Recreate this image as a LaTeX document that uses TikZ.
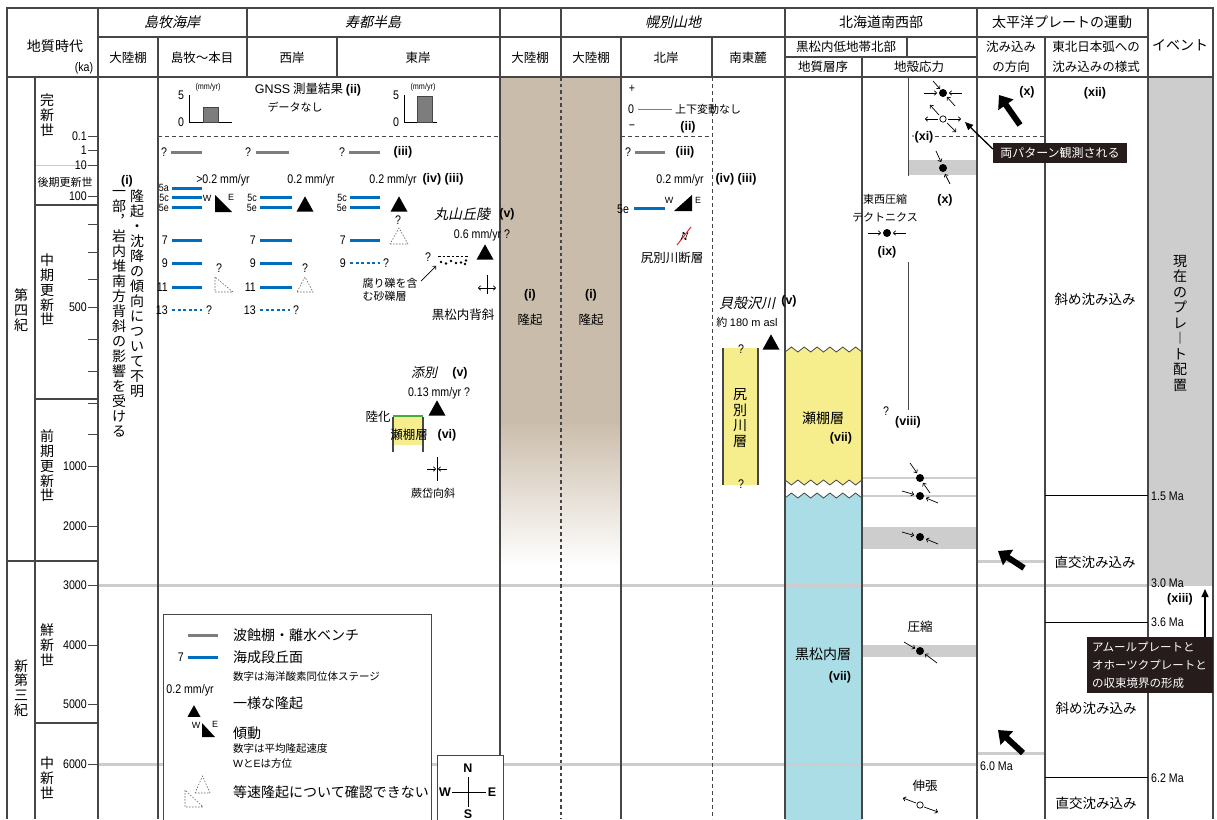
\documentclass[tikz,border=0pt]{standalone}
\usepackage{fontspec}
\setmainfont{Noto Sans CJK JP}
\newfontfamily\ar{Liberation Sans}
\newfontfamily\arn[FakeStretch=0.85]{Liberation Sans}
\newfontfamily\jit[FakeSlant=0.22]{Noto Sans CJK JP}
\usetikzlibrary{arrows.meta}
\definecolor{beige}{RGB}{202,188,170}
\definecolor{tblue}{RGB}{0,110,190}
\definecolor{lgray}{RGB}{205,205,205}
\definecolor{mgray}{RGB}{125,125,125}
\definecolor{yel}{RGB}{246,238,140}
\definecolor{lblue}{RGB}{170,221,229}
\definecolor{dark}{RGB}{38,28,28}
\definecolor{grn}{RGB}{70,170,60}
\definecolor{frm}{RGB}{70,70,70}
\definecolor{fred}{RGB}{225,40,40}
\tikzset{
  tx/.style={inner sep=0pt, font=\fontsize{12.5}{15}\selectfont},
  txs/.style={inner sep=0pt, font=\fontsize{11}{13}\selectfont},
  txl/.style={inner sep=0pt, font=\fontsize{14}{16}\selectfont},
  lt/.style={inner sep=0pt, font=\arn\fontsize{12.5}{13}\selectfont},
  lts/.style={inner sep=0pt, font=\arn\fontsize{10.5}{9}\selectfont},
  lsm/.style={inner sep=0pt, font=\arn\fontsize{8.5}{9}\selectfont},
  rn/.style={inner sep=0pt, font=\ar\bfseries\fontsize{12.5}{13}\selectfont},
  hd/.style={inner sep=0pt, font=\fontsize{14}{16}\selectfont, align=center},
  hs/.style={inner sep=0pt, font=\fontsize{12.5}{19.5}\selectfont, align=center},
  hi/.style={inner sep=0pt, font=\jit\fontsize{14}{16}\selectfont},
  vt/.style={inner sep=0pt, font=\fontsize{14}{14.8}\selectfont, align=center},
  rulel/.style={frm, line width=1.1pt},
  dsh/.style={frm, line width=1pt, dash pattern=on 4pt off 3pt},
  ter/.style={tblue, line width=3pt},
  terd/.style={tblue, line width=2.4pt, dash pattern=on 3pt off 2.5pt},
  bench/.style={mgray, line width=3pt},
  gline/.style={lgray, line width=3pt},
  sarr/.style={black, line width=0.7pt, -{To[length=3pt,width=5pt]}},
  bigarr/.style={line width=6pt, -{Triangle[length=12pt,width=18pt]}},
  dtri/.style={black!60, line width=0.6pt, dash pattern=on 1.5pt off 1.5pt},
  call/.style={fill=dark, text=white, inner sep=4pt},
  blk/.style={black, line width=0.8pt},
}
\newcommand\uptri[3]{\fill (#1-#3,#2+#3*0.9)--(#1+#3,#2+#3*0.9)--(#1,#2-#3*0.9)--cycle;}
\begin{document}
\begin{tikzpicture}[x=1pt,y=-1pt]
\useasboundingbox (0,0) rectangle (1217,819);
\fill[white] (0,0) rectangle (1217,819);
% ---------- fills ----------
\fill[beige] (500,77) rectangle (621,420);
\shade[top color=beige,bottom color=white] (500,420) rectangle (621,566);
\fill[lgray] (1148,77) rectangle (1213,586);
\fill[lgray] (908,160) rectangle (977,175);
\fill[lgray] (862,527) rectangle (977,549);
\fill[lgray] (862,645) rectangle (977,657);
% stratigraphy columns
\fill[yel] (785,352) \foreach \k in {1,...,12}{ -- ({785+77*\k/12},{ifthenelse(isodd(\k),347,352)}) } -- (862,480) \foreach \k in {11,...,0}{ -- ({785+77*\k/12},{ifthenelse(isodd(\k),485,480)}) } -- cycle;
\fill[lblue] (785,498) \foreach \k in {1,...,12}{ -- ({785+77*\k/12},{ifthenelse(isodd(\k),493,498)}) } -- (862,822) -- (785,822) -- cycle;
\draw[frm,line width=0.8pt] (785,352) \foreach \k in {1,...,12}{ -- ({785+77*\k/12},{ifthenelse(isodd(\k),347,352)}) };
\draw[frm,line width=0.8pt] (785,480) \foreach \k in {1,...,12}{ -- ({785+77*\k/12},{ifthenelse(isodd(\k),485,480)}) };
\draw[frm,line width=0.8pt] (785,498) \foreach \k in {1,...,12}{ -- ({785+77*\k/12},{ifthenelse(isodd(\k),493,498)}) };
\fill[yel] (723,348) rectangle (758,485);
\draw[frm,line width=1.3pt] (723,348)--(723,485) (758,348)--(758,485);
% ---------- grey time lines ----------
\draw[gline] (98,585)--(1148,585);
\draw[gline] (98,764)--(977,764);
\draw[lgray,line width=2pt] (862,478)--(977,478) (862,496)--(977,496);
\draw[gline] (977,561)--(1045,561);
\draw[gline] (977,753)--(1045,753);
\draw[lgray,line width=1pt] (35,165)--(88,165);
% ---------- frame ----------
\draw[rulel] (7,819)--(7,8)--(1213,8)--(1213,819);
\draw[rulel] (98,37)--(1148,37);
\draw[rulel] (7,77)--(1213,77);
\draw[rulel] (785,57)--(977,57);
\draw[rulel] (35,77)--(35,819);
\draw[rulel] (98,8)--(98,819);
\draw[rulel] (158,37)--(158,819);
\draw[rulel] (247,8)--(247,77);
\draw[rulel] (337,37)--(337,77);
\draw[rulel] (500,8)--(500,819);
\draw[rulel] (561,8)--(561,77);
\draw[dsh,line width=1.4pt,dash pattern=on 3.5pt off 3pt] (561,77)--(561,819);
\draw[rulel] (621,37)--(621,819);
\draw[rulel] (712,37)--(712,77);
\draw[dsh] (712,77)--(712,819);
\draw[rulel] (785,8)--(785,819);
\draw[rulel] (907,37)--(907,57);
\draw[rulel] (862,57)--(862,819);
\draw[rulel] (977,8)--(977,819);
\draw[rulel] (1045,37)--(1045,819);
\draw[rulel] (1148,8)--(1148,819);
\draw[frm,line width=0.9pt] (908,77)--(908,176) (908,262)--(908,410);
% era / epoch lines
\draw[rulel] (35,205)--(98,205) (35,399)--(98,399) (7,561)--(98,561) (35,723)--(98,723);
\draw[blk] (1045,495)--(1148,495) (1045,622)--(1148,622) (1045,777)--(1148,777);
% dashed 0.1 ka line
\draw[dsh] (158,136)--(500,136) (621,136)--(712,136);
\draw[dsh] (935,136)--(1045,136);
\fill[frm] (913,136) circle (0.8pt);
% ---------- header text ----------
\node[hd] (h1) at (55,46) {地質時代};
\node[lt] (h2) at (84,68) {(ka)};
\node[hi] (h3) at (172,22) {島牧海岸};
\node[hi] (h4) at (373,22) {寿都半島};
\node[hi] (h5) at (673,22) {幌別山地};
\node[hd] (h6) at (881,22) {北海道南西部};
\node[hd] (h7) at (1062,22) {太平洋プレートの運動};
\node[hs] (h8) at (128,58) {大陸棚};
\node[hs] (h9) at (202,58) {島牧〜本目};
\node[hs] (h10) at (292,58) {西岸};
\node[hs] (h11) at (418,58) {東岸};
\node[hs] (h12) at (530,58) {大陸棚};
\node[hs] (h13) at (591,58) {大陸棚};
\node[hs] (h14) at (666,58) {北岸};
\node[hs] (h15) at (748,58) {南東麓};
\node[hs] (h16) at (846,47) {黒松内低地帯北部};
\node[hs] (h17) at (823,67) {地質層序};
\node[hs] (h18) at (919,67) {地殻応力};
\node[hs] (h19) at (1011,57) {沈み込み\\の方向};
\node[hs] (h20) at (1096,57) {東北日本弧への\\沈み込みの様式};
\node[hd] (h21) at (1180,45) {イベント};
% ---------- time axis ----------
\foreach \yy/\lab in {136/0.1,150/1,165/10,196/100,307/500,466/1000,526/2000,585/3000,645/4000,704/5000,764/6000}{
  \node[lt,anchor=east] at (87,\yy) {\lab};
  \draw[frm,line width=0.9pt] (88,\yy)--(98,\yy);}
\foreach \yy in {224,252,279,339,371,403,434}{\draw[frm,line width=0.9pt] (88,\yy)--(98,\yy);}
\node[vt] (e1) at (47,115) {完\\新\\世};
\node[txs] (e2) at (65,182) {後期更新世};
\node[vt] (e3) at (47,290) {中\\期\\更\\新\\世};
\node[vt] (e4) at (47,466) {前\\期\\更\\新\\世};
\node[vt] (e5) at (47,645) {鮮\\新\\世};
\node[vt] (e6) at (47,778) {中\\新\\世};
\node[vt] (e7) at (21,310) {第\\四\\紀};
\node[vt] (e8) at (21,688) {新\\第\\三\\紀};
% ---------- 島牧 大陸棚 ----------
\node[rn] (i1) at (127,181) {(i)};
\node[vt,anchor=north,font=\fontsize{14}{15}\selectfont] (i2) at (137,190) {隆\\起\\・\\沈\\降\\の\\傾\\向\\に\\つ\\い\\て\\不\\明};
\node[vt,anchor=north,font=\fontsize{14}{15}\selectfont] (i3) at (119,190) {一\\部\\︐\\岩\\内\\堆\\南\\方\\背\\斜\\の\\影\\響\\を\\受\\け\\る};
% ---------- GNSS ----------
\draw[blk] (189,95)--(189,122)--(232,122);
\fill[mgray] (203,107) rectangle (218,122); \draw[frm,line width=0.5pt] (203,107) rectangle (218,122);
\node[lt] at (181,95) {5}; \node[lt] at (181,122) {0}; \node[lsm] at (208,87) {(mm/yr)};
\draw[blk] (404,95)--(404,122)--(437,122);
\fill[mgray] (417,96) rectangle (432,122); \draw[frm,line width=0.5pt] (417,96) rectangle (432,122);
\node[lt] at (396,95) {5}; \node[lt] at (396,122) {0}; \node[lsm] at (423,87) {(mm/yr)};
\node[tx] (g1) at (308,90) {{\ar GNSS} 測量結果 {\ar\bfseries (ii)}};
\node[txs] (g2) at (295,107) {データなし};
% ---------- benches ----------
\node[lt] at (164,152) {?}; \draw[bench] (171,152)--(202,152);
\node[lt] at (248,152) {?}; \draw[bench] (256,152)--(289,152);
\node[lt] at (342,152) {?}; \draw[bench] (349,152)--(380,152);
\node[rn] at (403,152) {(iii)};
\node[lt] at (223,180) {>0.2 mm/yr};
\node[lt] at (311,180) {0.2 mm/yr};
\node[lt] at (393,180) {0.2 mm/yr};
\node[rn] at (443,179) {(iv) (iii)};
% column 1
\node[lts,anchor=east] at (169,187.5) {5a};
\node[lts,anchor=east] at (169,197.5) {5c};
\node[lts,anchor=east] at (169,207.5) {5e};
\draw[ter] (172,188)--(202,188) (172,197)--(202,197) (172,207)--(202,207);
\node[lsm,font=\ar\fontsize{9}{9}\selectfont] at (207,198) {W};
\fill (215,195)--(215,212)--(232,212)--cycle;
\node[lsm,font=\ar\fontsize{9}{9}\selectfont] at (231,197) {E};
\node[lt,anchor=east] at (168,240) {7}; \draw[ter] (172,240)--(202,240);
\node[lt,anchor=east] at (168,263) {9}; \draw[ter] (172,263)--(202,263);
\node[lt,anchor=east] at (168,287) {11}; \draw[ter] (172,287)--(202,287);
\node[lt,anchor=east] at (168,310) {13}; \draw[terd] (172,310)--(202,310); \node[lt] at (209,310) {?};
\draw[dtri] (215,277)--(215,292)--(233,292)--cycle; \node[lt] at (219,268) {?};
% column 2
\node[lts,anchor=east] at (257,197.5) {5c};
\node[lts,anchor=east] at (257,207.5) {5e};
\draw[ter] (260,197)--(292,197) (260,207)--(292,207);
\uptri{305}{204}{8.5}
\node[lt,anchor=east] at (256,240) {7}; \draw[ter] (260,240)--(292,240);
\node[lt,anchor=east] at (256,263) {9}; \draw[ter] (260,263)--(292,263);
\node[lt,anchor=east] at (256,287) {11}; \draw[ter] (260,287)--(292,287);
\node[lt,anchor=east] at (256,310) {13}; \draw[terd] (260,310)--(290,310); \node[lt] at (296,310) {?};
\draw[dtri] (297,292)--(313,292)--(305,277)--cycle; \node[lt] at (305,268) {?};
% column 3
\node[lts,anchor=east] at (347,197.5) {5c};
\node[lts,anchor=east] at (347,207.5) {5e};
\draw[ter] (350,197)--(380,197) (350,207)--(380,207);
\uptri{399}{204}{8.5}
\node[lt] at (398,220) {?};
\draw[dtri] (390,244)--(408,244)--(399,228)--cycle;
\node[lt,anchor=east] at (346,240) {7}; \draw[ter] (350,240)--(380,240);
\node[lt,anchor=east] at (346,263) {9}; \draw[terd] (350,263)--(380,263); \node[lt] at (386,263) {?};
% 丸山丘陵
\node[txl,font=\jit\fontsize{14}{16}\selectfont] (m1) at (462,214) {丸山丘陵};
\node[rn] (m2) at (507,214) {(v)};
\node[lt] (m3) at (482,235) {0.6 mm/yr ?};
\uptri{485}{252}{8.5}
\node[lt] at (428,257) {?};
\draw[black,line width=0.7pt,dash pattern=on 2.5pt off 2pt] (438,256)--(468,256);
\foreach \px/\py in {441/262,446/263.5,451/261,456/263,461/262.5,466/260.5,465/264}{\fill (\px,\py) circle (1.3pt);}
\node[txs,align=left] (m4) at (390,290) {腐り礫を含\\む砂礫層};
\draw[sarr] (421,281)--(436,266);
\draw[blk] (487,275)--(487,294);
\draw[sarr] (487,288)--(478,288); \draw[sarr] (487,288)--(496,288);
\node[tx] (m5) at (463,315) {黒松内背斜};
% 添別
\node[txl,font=\jit\fontsize{13}{15}\selectfont] (s1) at (424,373) {添別};
\node[rn] (s2) at (460,373) {(v)};
\node[lt] (s3) at (439,393) {0.13 mm/yr ?};
\uptri{437}{408}{8.5}
\fill[yel] (393,417) rectangle (423,445);
\draw[frm,line width=1.3pt] (393,417)--(393,452) (423,417)--(423,452);
\draw[grn,line width=1.8pt] (393,416)--(423,416);
\node[tx] (s4) at (378,417) {陸化};
\node[tx] (s5) at (409,435) {瀬棚層};
\node[rn] (s6) at (447,435) {(vi)};
\draw[blk] (437,457)--(437,481);
\draw[sarr] (427,469)--(436,469); \draw[sarr] (447,469)--(438,469);
\node[txs] (s7) at (433,493) {蕨岱向斜};
% 大陸棚 uplift
\node[rn] at (530,295) {(i)}; \node[tx] at (530,320) {隆起};
\node[rn] at (591,295) {(i)}; \node[tx] at (591,320) {隆起};
% ---------- 北岸 ----------
\node[lt] at (632,89) {+};
\node[lt] at (631,109) {0};
\draw[mgray,line width=0.7pt] (638,109)--(672,109);
\node[txs] at (708,109) {上下変動なし};
\node[lt] at (632,127) {−};
\node[rn] at (688,127) {(ii)};
\node[lt] at (628,152) {?}; \draw[bench] (635,152)--(665,152); \node[rn] at (685,152) {(iii)};
\node[lt] at (680,180) {0.2 mm/yr};
\node[rn] at (736,179) {(iv) (iii)};
\node[lt] at (623,209) {5e}; \draw[ter] (634,208)--(665,208);
\node[lsm,font=\ar\fontsize{9}{9}\selectfont] at (669,200) {W};
\fill (692,195)--(692,211)--(674,211)--cycle;
\node[lsm,font=\ar\fontsize{9}{9}\selectfont] at (698,200) {E};
\draw[fred,line width=1pt] (677,245)--(691,227);
\draw[black,line width=0.6pt,-{To[length=2pt,width=3pt]}] (681,240)--(684,232);
\draw[black,line width=0.6pt,-{To[length=2pt,width=3pt]}] (688,232)--(685,240);
\node[tx] at (672,258) {尻別川断層};
% ---------- 南東麓 ----------
\node[txl,font=\jit\fontsize{14}{16}\selectfont] at (747,303) {貝殻沢川};
\node[rn] at (789,301) {(v)};
\node[txs] at (747,322) {約 {\ar 180 m asl}};
\uptri{771}{342}{8.5}
\node[lt] at (741,349) {?};
\node[lt] at (741,484) {?};
\node[vt,font=\fontsize{14}{15.5}\selectfont] at (740,418) {尻\\別\\川\\層};
% ---------- 地質層序 ----------
\node[txl] at (823,418) {瀬棚層};
\node[rn] at (841,438) {(vii)};
\node[txl] at (823,654) {黒松内層};
\node[rn] at (840,677) {(vii)};
% ---------- 地殻応力 ----------
\fill (943,93) circle (4pt);
\draw[sarr] (924,93)--(937,93); \draw[sarr] (962,93)--(949,93);
\draw[sarr] (933,81)--(940,89); \draw[sarr] (955,106)--(947,97);
\draw[black,line width=0.7pt] (943,119) circle (3.2pt);
\draw[sarr] (938,119)--(925,119); \draw[sarr] (948,119)--(961,119);
\draw[sarr] (939,115)--(930,105); \draw[sarr] (947,123)--(956,132);
\node[rn] at (924,137) {(xi)};
\fill (943,168) circle (4pt);
\draw[sarr] (936,151)--(941,162); \draw[sarr] (950,184)--(945,174);
\node[rn] at (945,200) {(x)};
\node[txs] at (885,199) {東西圧縮};
\node[txs] at (885,217) {テクトニクス};
\fill (887,233) circle (4pt);
\draw[sarr] (868,233)--(881,233); \draw[sarr] (906,233)--(893,233);
\node[rn] at (887,252) {(ix)};
\node[lt] at (886,411) {?};
\node[rn] at (908,422) {(viii)};
\fill (920,478) circle (4pt);
\draw[sarr] (910,463)--(917,473); \draw[sarr] (930,493)--(923,483);
\fill (920,496) circle (4pt);
\draw[sarr] (902,491)--(914,494.5); \draw[sarr] (938,503)--(926,498);
\fill (920,537) circle (4pt);
\draw[sarr] (902,532)--(914,535.5); \draw[sarr] (938,544)--(926,539);
\node[tx] at (920,627) {圧縮};
\fill (920,651) circle (4pt);
\draw[sarr] (904,642)--(915,648.5); \draw[sarr] (937,663)--(925,654);
\node[tx] at (925,786) {伸張};
\draw[black,line width=0.7pt] (920,805) circle (3.2pt);
\draw[sarr] (916,803)--(903,798); \draw[sarr] (924,807)--(938,812);
% ---------- 沈み込み ----------
\node[rn] at (1027,92) {(x)};
\draw[bigarr] (1020,125)--(999,95);
\draw[bigarr] (1024,568)--(998,551);
\draw[bigarr] (1023,753)--(998,730);
\node[lt,anchor=west] at (980,766) {6.0 Ma};
\node[rn] at (1095,93) {(xii)};
\node[txl,font=\fontsize{13.5}{16}\selectfont] at (1095,299) {斜め沈み込み};
\node[txl,font=\fontsize{13.5}{16}\selectfont] at (1095,562) {直交沈み込み};
\node[txl,font=\fontsize{13.5}{16}\selectfont] at (1096,708) {斜め沈み込み};
\node[txl,font=\fontsize{13.5}{16}\selectfont] at (1096,803) {直交沈み込み};
% ---------- イベント ----------
\node[vt,font=\fontsize{14}{15.5}\selectfont,anchor=north] at (1180,255) {現\\在\\の\\プ\\レ\\︱\\ト\\配\\置};
\node[lt,anchor=west] at (1151,496) {1.5 Ma};
\node[lt,anchor=west] at (1151,583) {3.0 Ma};
\node[lt,anchor=west] at (1151,622) {3.6 Ma};
\node[lt,anchor=west] at (1151,778) {6.2 Ma};
\node[rn] at (1180,599) {(xiii)};
% ---------- callouts ----------
\node[call,font=\fontsize{12}{14}\selectfont,minimum width=134pt,minimum height=20pt] (c1) at (1060,153) {両パターン観測される};
\draw[black,line width=1.3pt,-{Triangle[length=8pt,width=7pt]}] (c1.west)+(0,-4) -- (965,122);
\node[call,font=\fontsize{11.5}{18}\selectfont,align=left,minimum width=126pt,minimum height=56pt,text width=116pt] (c2) at (1150,665) {アムールプレートと\\オホーツクプレートと\\の収束境界の形成};
\draw[black,line width=1.3pt,-{Triangle[length=8pt,width=7pt]}] (1205,637)--(1205,589);
% ---------- legend ----------
\draw[frm,line width=1pt,fill=white] (163,614) rectangle (431,822);
\draw[bench] (188,635)--(218,635); \node[txl,anchor=west] at (233,635) {波蝕棚・離水ベンチ};
\node[lt,anchor=east] at (184,657) {7}; \draw[ter] (188,657)--(218,657); \node[txl,anchor=west] at (233,657) {海成段丘面};
\node[txs,font=\fontsize{10.5}{12}\selectfont,anchor=west] at (233,677) {数字は海洋酸素同位体ステージ};
\node[lt] at (190,690) {0.2 mm/yr};
\uptri{194}{711}{6.5}
\node[txl,anchor=west] at (233,703) {一様な隆起};
\node[lsm,font=\ar\fontsize{9}{9}\selectfont] at (196,725) {W};
\fill (202,723)--(202,737)--(215,737)--cycle;
\node[lsm,font=\ar\fontsize{9}{9}\selectfont] at (215,724) {E};
\node[txl,anchor=west] at (233,733) {傾動};
\node[txs,font=\fontsize{10.5}{12}\selectfont,anchor=west] at (233,749) {数字は平均隆起速度};
\node[txs,font=\fontsize{10.5}{12}\selectfont,anchor=west] at (233,764) {{\ar W}と{\ar E}は方位};
\draw[dtri] (195,793)--(210,793)--(202.5,776)--cycle;
\draw[dtri] (185,790)--(185,807)--(203,807)--cycle;
\node[txl,anchor=west] at (233,792) {等速隆起について確認できない};
% compass
\draw[frm,line width=1pt,fill=white] (437,755) rectangle (503,822);
\draw[blk,line width=1pt] (468,777)--(468,807) (452,792)--(486,792);
\node[rn] at (468,768) {N}; \node[rn] at (468,814) {S};
\node[rn] at (445,792) {W}; \node[rn] at (492,792) {E};
\end{tikzpicture}
\end{document}
